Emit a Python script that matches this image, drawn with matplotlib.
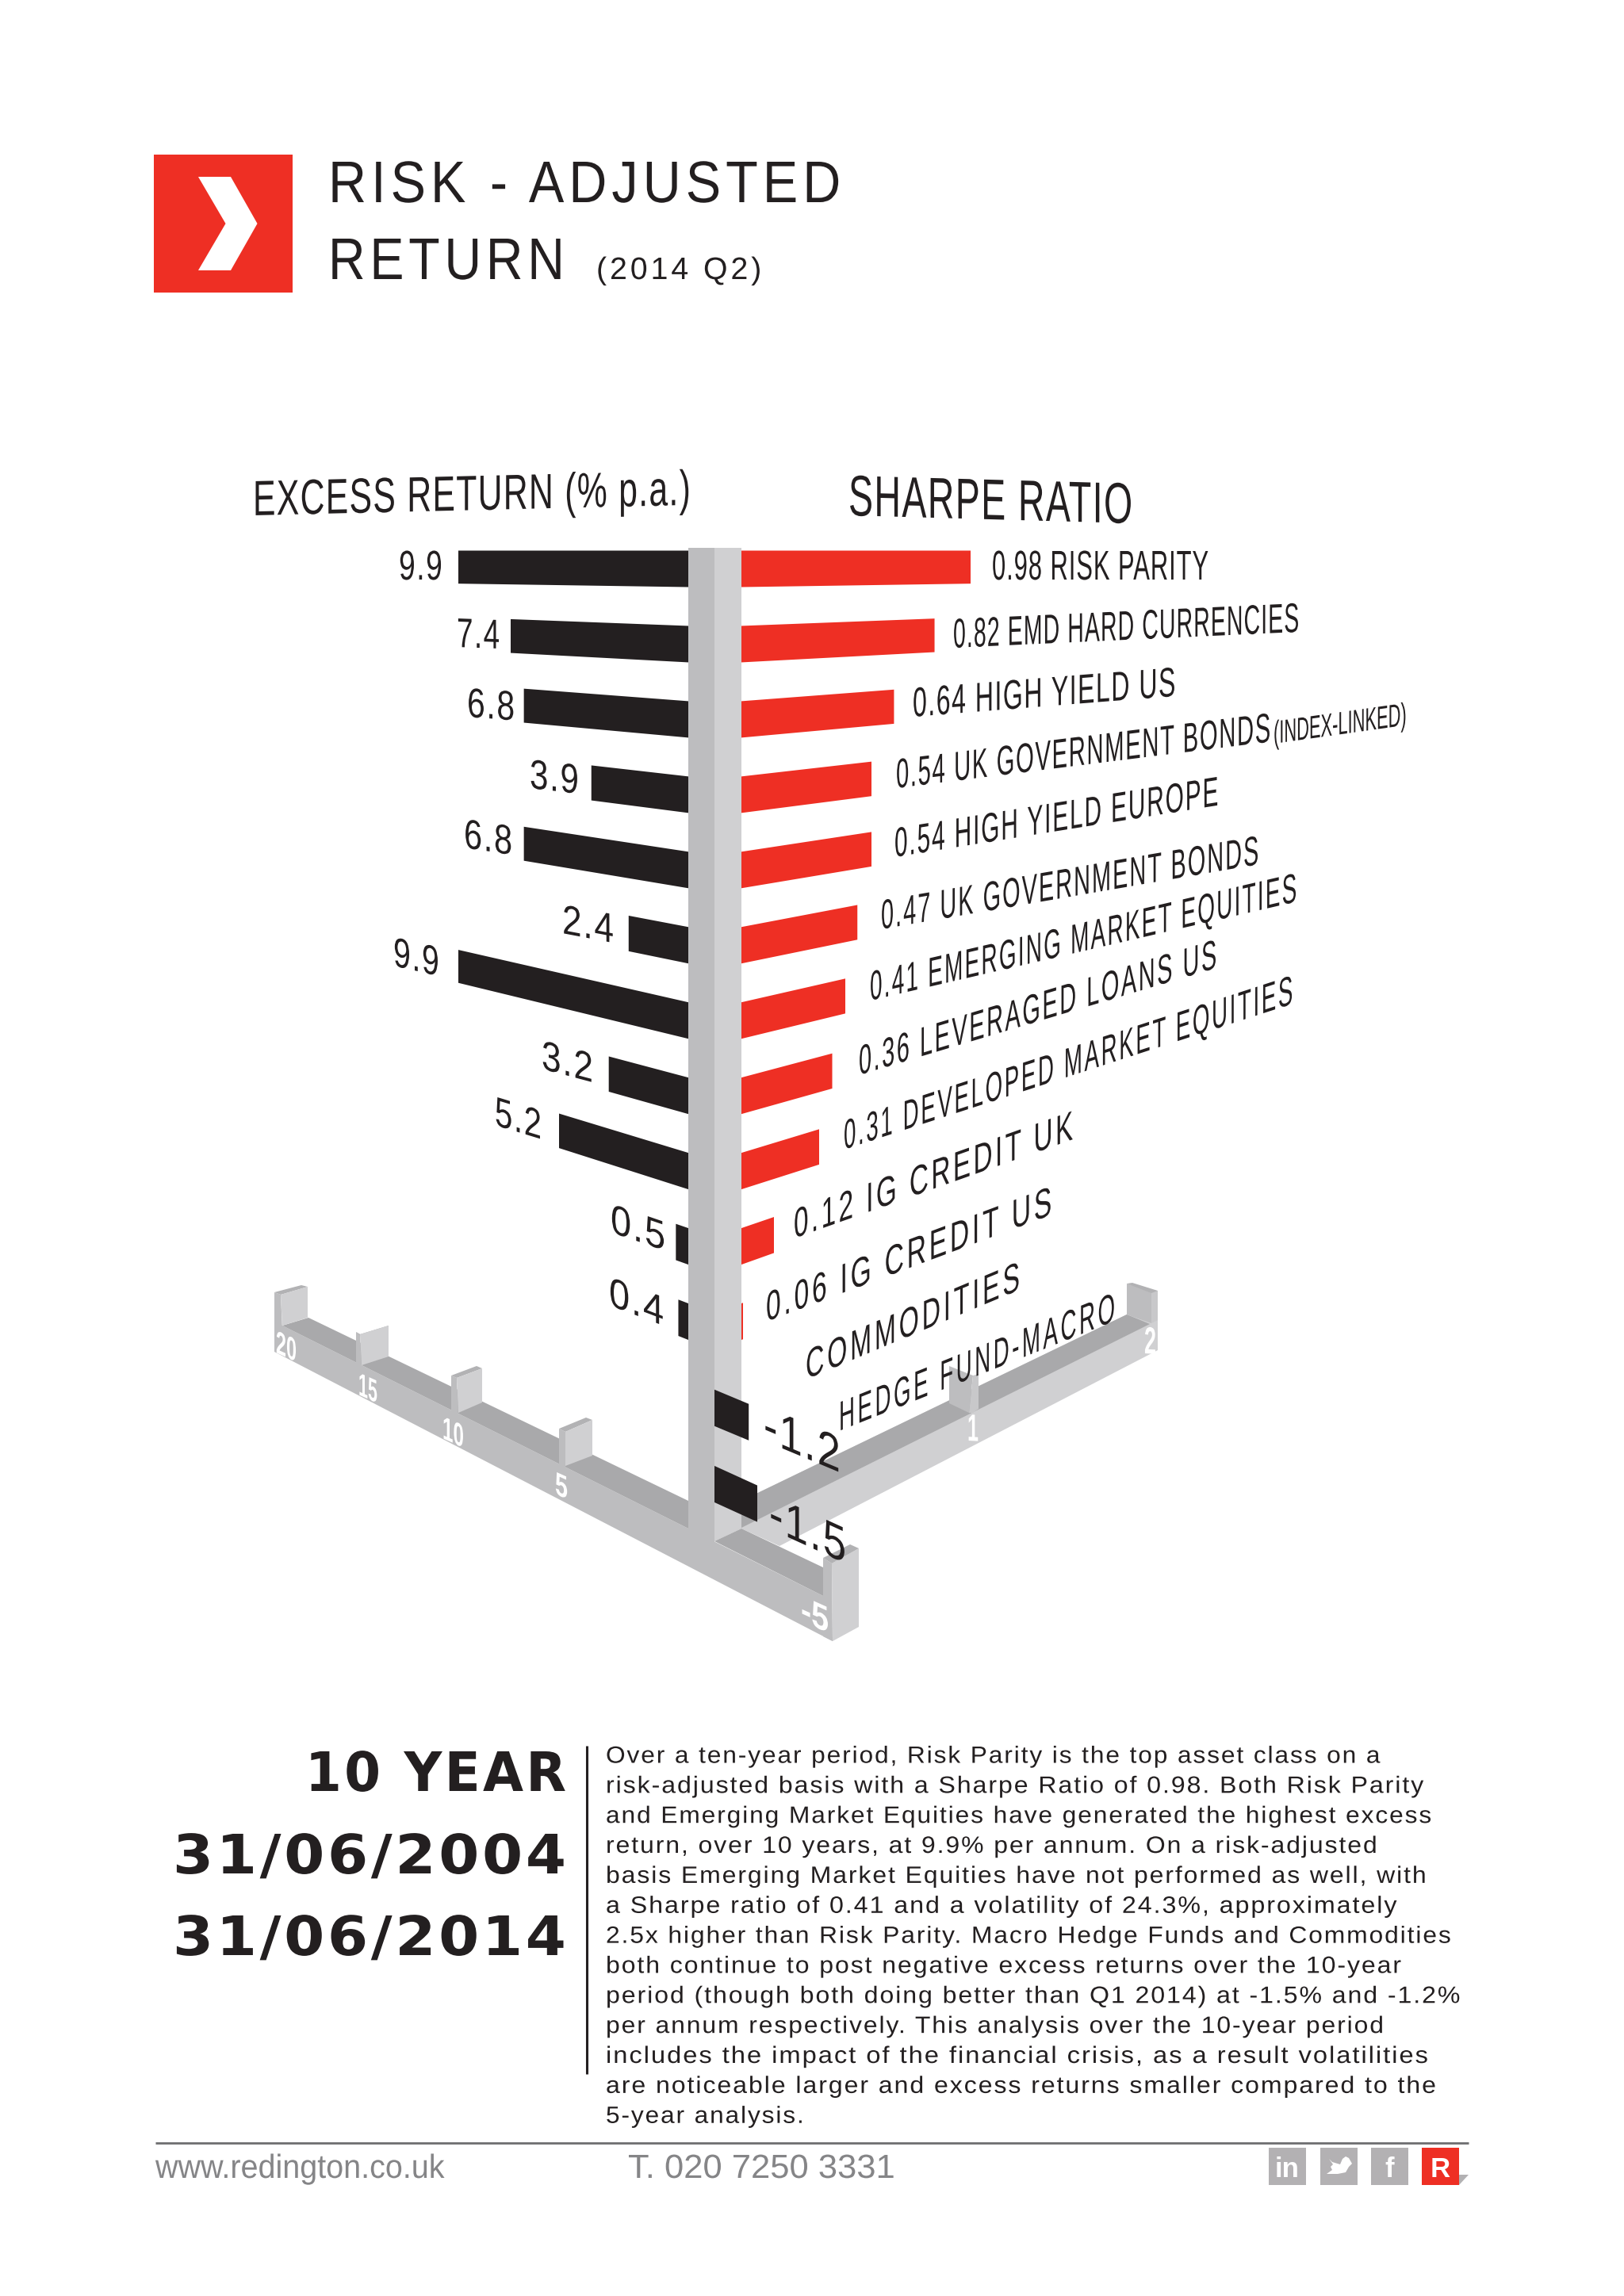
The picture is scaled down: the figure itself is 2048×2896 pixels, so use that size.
"""
plot.py - Risk-adjusted return poster (excess return vs Sharpe ratio).
"""

import numpy as np
import matplotlib

matplotlib.use("Agg")

import matplotlib.pyplot as plt
from matplotlib.font_manager import FontProperties
from matplotlib.patches import Polygon
from matplotlib.path import Path
from matplotlib.patheffects import AbstractPathEffect
from matplotlib.textpath import TextToPath
from matplotlib.transforms import Affine2D

####################################################
# Data
####################################################

names = [
    "RISK PARITY", "EMD HARD CURRENCIES", "HIGH YIELD US",
    "UK GOVERNMENT BONDS", "HIGH YIELD EUROPE", "UK GOVERNMENT BONDS",
    "EMERGING MARKET EQUITIES", "LEVERAGED LOANS US",
    "DEVELOPED MARKET EQUITIES", "IG CREDIT UK", "IG CREDIT US",
    "COMMODITIES", "HEDGE FUND-MACRO",
]
excess_return = [9.9, 7.4, 6.8, 3.9, 6.8, 2.4, 9.9, 3.2, 5.2, 0.5, 0.4, -1.2, -1.5]
sharpe_ratio = [0.98, 0.82, 0.64, 0.54, 0.54, 0.47, 0.41, 0.36, 0.31, 0.12, 0.06]

excess_ticks = ["20", "15", "10", "5", "-5"]
sharpe_ticks = ["1", "2"]

body_lines = [
    "Over a ten-year period, Risk Parity is the top asset class on a",
    "risk-adjusted basis with a Sharpe Ratio of 0.98. Both Risk Parity",
    "and Emerging Market Equities have generated the highest excess",
    "return, over 10 years, at 9.9% per annum. On a risk-adjusted",
    "basis Emerging Market Equities have not performed as well, with",
    "a Sharpe ratio of 0.41 and a volatility of 24.3%, approximately",
    "2.5x higher than Risk Parity. Macro Hedge Funds and Commodities",
    "both continue to post negative excess returns over the 10-year",
    "period (though both doing better than Q1 2014) at -1.5% and -1.2%",
    "per annum respectively. This analysis over the 10-year period",
    "includes the impact of the financial crisis, as a result volatilities",
    "are noticeable larger and excess returns smaller compared to the",
    "5-year analysis.",
]
body_ends = [1740, 1795, 1803, 1735, 1797, 1760, 1828, 1765, 1839, 1743, 1800, 1809, 1014]

####################################################
# Layout and style
####################################################

RED = "#EE2F24"
BLACK = "#231F20"
TROUGH = "#A9A9AB"
MID = "#BDBDBF"
LIGHT = "#D0D0D2"
CAP = "#B2B2B4"
ICON = "#B3B1B3"

SANS = "Liberation Sans"
DEJAVU = "DejaVu Sans"
CAP_RATIO = {SANS: 0.688, DEJAVU: 0.729}

POLE_L, POLE_C, POLE_R = 868, 901, 935
POLE_TOP = 691
ROW0, ROW_STEP = 694.5, 94.95
BAR_H = 46
SLANT = 0.038
NEG_SCALE = 36
# the poster's bar lengths are not quite linear, so both scales are piecewise
EXCESS_DOMAIN = [0, 5.2, 7.4, 9.9]
EXCESS_RANGE = [0, 163, 224, 290]
SHARPE_DOMAIN = [0, 0.06, 0.12, 0.31, 0.41, 0.54, 0.98]
SHARPE_RANGE = [0, 2, 41, 98, 131, 164, 289]

fig = plt.figure(figsize=(20.48, 28.96), dpi=100, facecolor="white")
ax = fig.add_axes([0, 0, 1, 1])
ax.set_xlim(0, 2048)
ax.set_ylim(2896, 0)
ax.axis("off")
renderer = fig.canvas.get_renderer()
ttp = TextToPath()


class Warp(AbstractPathEffect):
    """Condense, shear and letter-space a text's glyphs around its origin."""

    def __init__(self, text, prop, sx=1.0, slope=0.0, tracking=0.0):
        super().__init__()
        self.sx = sx
        self.slope = slope
        self.tracking = tracking * 100  # glyph paths are 100 units per em
        big = prop.copy()
        big.set_size(100)
        self.ends = np.array([
            ttp.get_text_width_height_descent(text[:k], big, False)[0]
            for k in range(1, len(text) + 1)
        ]) if tracking else None

    def draw_path(self, renderer, gc, tpath, affine, rgbFace=None):
        verts = tpath.vertices.copy()
        codes = tpath.codes
        if self.ends is not None:
            bounds = np.append(np.where(codes == Path.MOVETO)[0], len(verts))
            for a, b in zip(bounds[:-1], bounds[1:]):
                real = verts[a:b, 0][codes[a:b] != Path.CLOSEPOLY]
                cx = (real.min() + real.max()) / 2
                verts[a:b, 0] += self.tracking * np.searchsorted(self.ends, cx)
        warp = Affine2D.from_values(self.sx, self.slope * self.sx, 0, 1, 0, 0)
        renderer.draw_path(gc, Path(verts, codes), warp + affine, rgbFace)


def poly(pts, color, z=2):
    ax.add_patch(Polygon(pts, closed=True, facecolor=color, edgecolor="none", zorder=z))


def fit_text(x, y, s, width, cap, slope=0.0, tracking=0.0, family=SANS,
             weight="normal", color=BLACK, ha="left"):
    """Real text with baseline start (x, y), horizontal `width` and cap height in px."""
    size = cap / CAP_RATIO[family] * 0.72
    prop = FontProperties(family=family, weight=weight, size=size)
    left = x - width if ha == "right" else x
    t = ax.text(left, y, s, fontproperties=prop, color=color, ha="left", va="baseline", zorder=6)
    natural = t.get_window_extent(renderer).width
    spaced = natural + tracking * size / 0.72 * (len(s) - 1)
    t.set_path_effects([Warp(s, prop, width / spaced, slope, tracking)])
    return t


####################################################
# Header
####################################################

poly([(194, 195), (369, 195), (369, 369), (194, 369)], RED)
poly([(250, 223), (291, 223), (324.5, 282), (291, 341), (250, 341), (284.5, 282)], "white", 3)

fit_text(414, 255, "RISK - ADJUSTED", 646, 51, tracking=0.09)
fit_text(414, 352, "RETURN", 298, 51, tracking=0.09)
fit_text(752, 352, "(2014 Q2)", 208, 27, tracking=0.1)

fit_text(319, 650, "EXCESS RETURN (% p.a.)", 552, 43, slope=0.024, tracking=0.03)
fit_text(1070, 650, "SHARPE RATIO", 358, 50, slope=-0.028, tracking=0.03)

####################################################
# 3D base rails (drawn back to front)
####################################################

# right rail
poly([(935, 1893), (1421, 1658), (1460, 1665), (1460, 1703), (983, 1950), (935, 1928)], LIGHT)
poly([(935, 1893), (1421, 1658), (1450, 1670), (935, 1927)], TROUGH)

# right rail ticks
poly([(1197, 1723), (1227, 1735), (1222, 1782), (1197, 1770)], MID, 3)
poly([(1227, 1735), (1234, 1733), (1234, 1777), (1227, 1782), (1222, 1782)], "#C8C8CA", 3)
poly([(1421, 1619), (1452, 1628), (1452, 1669), (1421, 1658)], MID, 3)
poly([(1452, 1628), (1460, 1628), (1460, 1665), (1452, 1669)], "#C8C8CA", 3)
poly([(1421, 1619), (1428, 1618), (1460, 1628), (1452, 1631)], CAP, 3)

# left rail
poly([(346, 1667), (356, 1672), (1038, 2013), (1050, 2070), (346, 1705)], MID)
poly([(356, 1672), (389, 1662), (868, 1893), (868, 1928)], TROUGH)

# left rail ticks: (x, y, cap, front) offsets from the strip corner
left_posts = [
    (346, 1630, [(34, -9), (42, -7), (8, 3)], [(8, 3), (42, -7), (42, 32), (10, 42)]),
    (449, 1680, [(5, 3), (41, -8), (41, -7), (5, 4)], [(5, 3), (41, -8), (41, 31), (7, 42)]),
    (569, 1735, [(32, -12), (39, -9), (7, 3)], [(7, 3), (39, -9), (39, 34), (9, 47)]),
    (705, 1802, [(34, -14), (42, -11), (8, 4)], [(8, 4), (42, -11), (42, 34), (8, 47)]),
]
for x0, y0, cap, front in left_posts:
    poly([(x0, y0), (x0 + front[0][0], y0 + front[0][1]),
          (x0 + front[3][0], y0 + front[3][1] + 5), (x0, y0 + front[3][1] + 3)], MID, 3)
    poly([(x0, y0)] + [(x0 + a, y0 + b) for a, b in cap], CAP, 3)
    poly([(x0 + a, y0 + b) for a, b in front], LIGHT, 3)

# pole and the trough in front of it
poly([(POLE_L, POLE_TOP), (POLE_C, POLE_TOP), (POLE_C, 1960), (POLE_L, 1945)], MID, 3)
poly([(POLE_C, POLE_TOP), (POLE_R, POLE_TOP), (POLE_R, 1928), (POLE_C, 1944)], LIGHT, 3)
poly([(POLE_C, 1944), (POLE_R, 1928), (1038, 1977), (1038, 2013)], TROUGH, 3)

# post at -5
poly([(1038, 1965), (1049, 1972), (1050, 2070), (1038, 2064)], MID, 3)
poly([(1049, 1972), (1083, 1953), (1083, 2052), (1050, 2070)], LIGHT, 3)
poly([(1038, 1965), (1072, 1948), (1083, 1953), (1049, 1972)], CAP, 3)

# axis numbers on the rails
tick_x = [348, 452, 558, 700, 1010]
tick_y = [1706, 1759, 1814, 1884, 2044]
tick_w = [26, 24, 27, 16, 35]
tick_cap = [28, 28, 28, 28, 32]
for s, x, y, w, c in zip(excess_ticks, tick_x, tick_y, tick_w, tick_cap):
    fit_text(x, y, s, w, c, slope=-0.45, weight="bold", color="white")
for s, x, y, w in zip(sharpe_ticks, [1220, 1443], [1817, 1707], [14, 15]):
    fit_text(x, y, s, w, 33, slope=-0.05, weight="bold", color="white")

####################################################
# Bars
####################################################

excess_px = np.interp(np.abs(excess_return), EXCESS_DOMAIN, EXCESS_RANGE)
for i, (v, length) in enumerate(zip(excess_return, excess_px)):
    top = ROW0 + ROW_STEP * i
    slope = SLANT * i
    if v >= 0:
        x_out = POLE_L - length
        y_out = top - slope * length
        h_out = BAR_H - 0.015 * length
        poly([(POLE_L, top), (x_out, y_out), (x_out, y_out + h_out), (POLE_L, top + BAR_H)], BLACK, 4)
    else:
        x_end = POLE_C - v * NEG_SCALE
        y_in = top + slope * (POLE_C - POLE_L)
        y_out = top + slope * (x_end - POLE_L)
        poly([(POLE_C, y_in), (x_end, y_out), (x_end, y_out + BAR_H), (POLE_C, y_in + BAR_H)], BLACK, 4)

sharpe_px = np.interp(sharpe_ratio, SHARPE_DOMAIN, SHARPE_RANGE)
for i, length in enumerate(sharpe_px):
    top = ROW0 + ROW_STEP * i
    x_out = POLE_R + length
    y_out = top - SLANT * i * length
    h_out = BAR_H - 0.015 * length
    poly([(POLE_R, top), (x_out, y_out), (x_out, y_out + h_out), (POLE_R, top + BAR_H)], RED, 4)

####################################################
# Bar labels
####################################################

value_x = [503, 576, 589, 668, 585, 709, 496, 683, 624, 770, 768, 963, 970]
value_y = [731, 816, 904, 994, 1069, 1177, 1218, 1348, 1419, 1554, 1646, 1817, 1928]
value_w = [55, 54, 60, 62, 61, 65, 58, 65, 59, 69, 69, 97, 97]
value_cap = [36] * 11 + [44, 44]
for i, v in enumerate(excess_return):
    fit_text(value_x[i], value_y[i], f"{v}", value_w[i], value_cap[i],
             slope=-SLANT * i, tracking=0.04)

label_x = [1251, 1202, 1151, 1130, 1128, 1111, 1097, 1083, 1064, 1001, 966, 1016, 1058]
label_y = [731, 817, 904, 994, 1081, 1172, 1262, 1356, 1450, 1562, 1667, 1740, 1805]
label_w = [273, 436, 331, 472, 408, 476, 538, 451, 566, 352, 360, 270, 348]
label_slope = [0, 0.046, 0.079, 0.124, 0.16, 0.172, 0.232, 0.30, 0.325, 0.355, 0.375, 0.42, 0.40]
for i, name in enumerate(names):
    text = f"{sharpe_ratio[i]:.2f} {name}" if i < len(sharpe_ratio) else name
    fit_text(label_x[i], label_y[i], text, label_w[i], 36, slope=label_slope[i],
             tracking=0.03 + 0.008 * i)

fit_text(1606, 938, "(INDEX-LINKED)", 168, 28, slope=0.14)

####################################################
# Bottom text block
####################################################

fit_text(714, 2259, "10 YEAR", 329, 50, tracking=0.05, family=DEJAVU, weight="bold", ha="right")
fit_text(714, 2363, "31/06/2004", 496, 50, tracking=0.05, family=DEJAVU, weight="bold", ha="right")
fit_text(714, 2466, "31/06/2014", 496, 50, tracking=0.05, family=DEJAVU, weight="bold", ha="right")

ax.plot([739.5, 739.5], [2202, 2616], color=BLACK, lw=2.2, solid_capstyle="butt", zorder=5)

for n, (line, end) in enumerate(zip(body_lines, body_ends)):
    fit_text(764, 2223.5 + 37.85 * n, line, end - 764, 20.5, tracking=0.06)

####################################################
# Footer
####################################################

ax.plot([196, 1852], [2703, 2703], color="#6E6E70", lw=2, solid_capstyle="butt", zorder=5)

fit_text(196, 2747, "www.redington.co.uk", 364, 29, color="#858587")
fit_text(792, 2747, "T. 020 7250 3331", 337, 29, color="#858587")

for x0, color in zip([1600, 1665, 1729, 1793], [ICON, ICON, ICON, RED]):
    poly([(x0, 2709), (x0 + 47, 2709), (x0 + 47, 2756), (x0, 2756)], color, 3)
poly([(1840, 2743), (1852, 2743), (1840, 2756)], ICON, 2)

for s, x in zip(["in", "f", "R"], [1623.5, 1752.5, 1816.5]):
    ax.text(x, 2733, s, family=SANS, fontweight="bold", fontsize=25, color="white",
            ha="center", va="center_baseline", zorder=6)

# twitter bird
bird = [(1676, 2723), (1680, 2727), (1690, 2730), (1693, 2723), (1697, 2720),
        (1701, 2722), (1705, 2729), (1701, 2733), (1697, 2740), (1687, 2742),
        (1673, 2742), (1680, 2737), (1678, 2733), (1681, 2730)]
poly(bird, "white", 5)

fig.savefig("out.png", dpi=100, facecolor="white")
plt.close(fig)
